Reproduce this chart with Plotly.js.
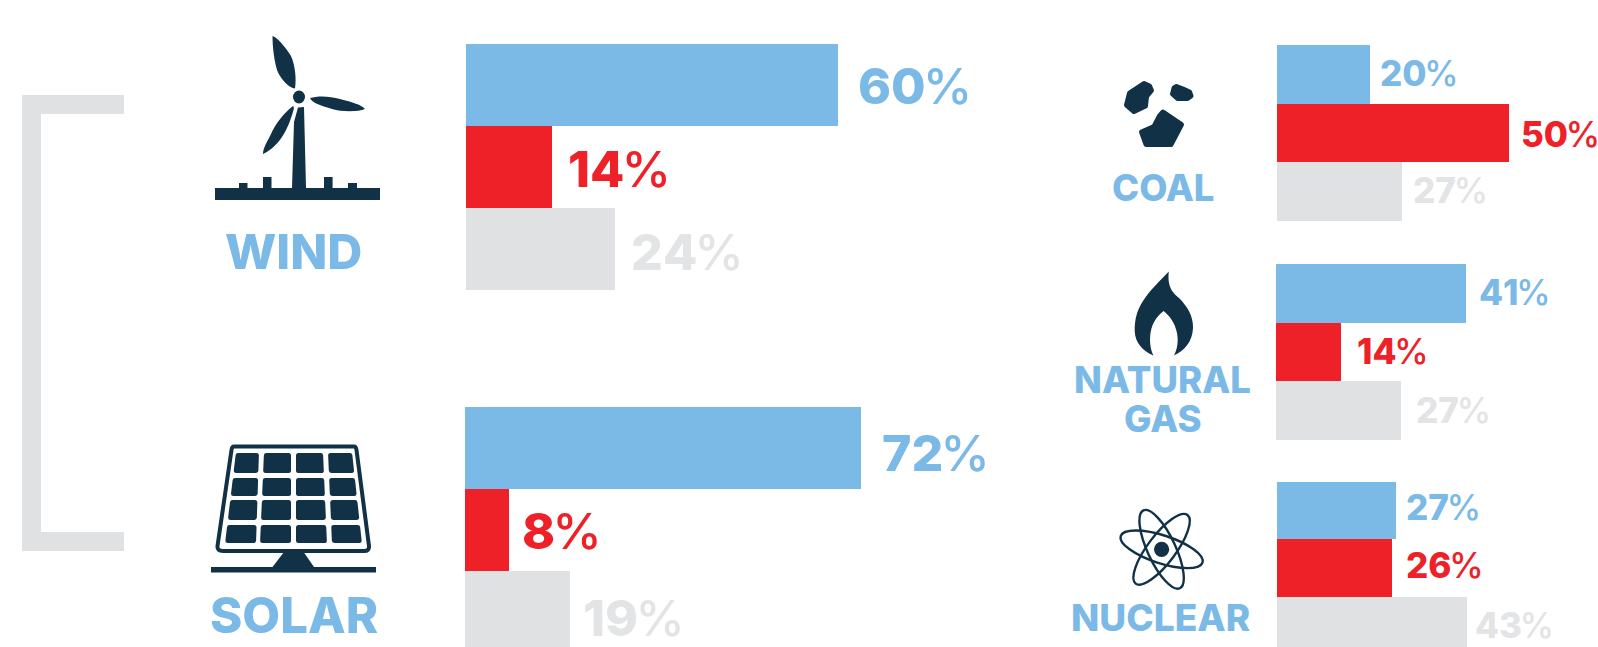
<!DOCTYPE html>
<html><head><meta charset="utf-8">
<script src="https://cdn.plot.ly/plotly-3.0.1.min.js"></script>
<style>html,body{margin:0;padding:0;background:#fff;overflow:hidden}#c{width:1598px;height:647px}</style>
</head><body><div id="c"></div>
<script>
// ---- data ----
const panels = ['Wind','Solar','Coal','Natural Gas','Nuclear'];
const wind    = [60,14,24];
const solar   = [72,8,19];
const coal    = [20,50,27];
const gas     = [41,14,27];
const nuclear = [27,26,43];
const barColors = ['#7bb9e6','#ee2128','#e0e1e3'];
const textColors = ['#7bb9e6','#ee2128','#e3e4e5'];

const W=1598,H=647, NAVY='#113147';
const fx=x=>x/W, fy=y=>1-y/H;
const cfg=[
 {v:wind,   l:465.5,t:44, b:290,s:6.21, yMax:2.5, gx:[19,15,15]},
 {v:solar,  l:465,t:407,b:647,s:5.5, yMax:2.43,gx:[20,12,12]},
 {v:coal,   l:1277,t:45,b:221,s:4.64,yMax:2.5, gx:[9,10.5,10]},
 {v:gas,    l:1276,t:264,b:440,s:4.63,yMax:2.5,gx:[12,15,14]},
 {v:nuclear,l:1277,t:482,b:647,s:4.42,yMax:2.37,gx:[9,13,7]},
];
const labelY=[[86,168.5,251.5],[452.5,531,618],[73,134,190],[292,351,410],[507,565,625]];
const FONT='Inter';
const traces=[],annotations=[],layout={};
const pct=(val,fs)=>{
  const s=String(val), tight=fs>40?-3:-2.5;
  return `${s.slice(0,-1)}<span style="letter-spacing:${tight}px">${s.slice(-1)}</span><span style="font-weight:500">%</span>`;
};
cfg.forEach((c,i)=>{
  const k=i?String(i+1):'';
  const right=i<2?1000:W;
  layout['xaxis'+k]={domain:[fx(c.l),fx(right)],range:[0,(right-c.l)/c.s],visible:false,fixedrange:true,anchor:'y'+k};
  layout['yaxis'+k]={domain:[fy(c.b),fy(c.t)],range:[c.yMax,-0.5],visible:false,fixedrange:true,anchor:'x'+k};
  traces.push({type:'bar',orientation:'h',name:panels[i],x:c.v,y:[0,1,2],width:1,xaxis:'x'+k,yaxis:'y'+k,
    marker:{color:barColors,line:{width:0}},hoverinfo:'skip',showlegend:false});
  const fs=i<2?50:35;
  c.v.forEach((val,j)=>{
    const band=(c.b-c.t)/(c.yMax+0.5);
    const centre=c.t+band*(j+0.5);
    annotations.push({xref:'x'+k,yref:'y'+k,x:val,y:j,xanchor:'left',yanchor:'middle',showarrow:false,
      xshift:c.gx[j],yshift:-(labelY[i][j]-centre),text:pct(val,fs),
      font:{family:FONT,size:fs,color:textColors[j],weight:800},borderpad:0});
  });
});
const names=[['WIND',293.4,252,48.5],['SOLAR',294,615.5,49],['COAL',1163,187.5,36.5],['NATURAL',1162.6,380,36.5],['GAS',1162.6,418.5,36.5],['NUCLEAR',1160.7,617,37]];
names.forEach(n=>annotations.push({xref:'paper',yref:'paper',x:fx(n[1]),y:fy(n[2]),xanchor:'center',yanchor:'middle',
  showarrow:false,text:n[0],font:{family:FONT,size:n[3],color:'#7bb9e6',weight:800}}));

// ---- decorative icons ----
function icon(x,y,w,h,inner){
  const svg=`<svg xmlns="http://www.w3.org/2000/svg" width="${w}" height="${h}" viewBox="${x} ${y} ${w} ${h}">${inner}</svg>`;
  return {source:'data:image/svg+xml;charset=utf-8,'+encodeURIComponent(svg),xref:'paper',yref:'paper',
    x:fx(x),y:fy(y),sizex:w/W,sizey:h/H,xanchor:'left',yanchor:'top',sizing:'stretch',layer:'above'};
}
const poly=(p,sw=1)=>`<polygon points="${p}" fill="${NAVY}" stroke="${NAVY}" stroke-width="${sw}" stroke-linejoin="round"/>`;
const windIcon=
 `<path fill="${NAVY}" d="M215 188H239V183H247.5V188H263V177H271.5V188H292L294 122L298 107.500L304 107L306 188H324V177H332.600V188H348V183H357V188H380V200H215Z"/>`+
 `<ellipse cx="299" cy="97" rx="6" ry="6.500" fill="${NAVY}"/>`+
 `<path fill="${NAVY}" d="M272.500 36C272.500 46 274 60 277 70C281 80 289 88 295 88.500C296.500 78 295 65 291 56C286 48 278 38 272.500 36Z"/>`+
 `<path fill="${NAVY}" d="M310 98C318 95.500 330 96 340 99C352 102 362 105 365 109C358 112 342 112 332 109C322 106 312 103 310 98Z"/>`+
 `<path fill="${NAVY}" d="M293 106C285 112 275 124 271 134C267 142 263 148 263 154C268 152 276 146 282 137C288 128 292 116 294 108Z"/>`;
const xT=[236,259,264,291,296,323,328,352], xB=[225,256,260,291,296,327,332,362];
const rows=[[453,473],[478,496],[500,520],[525,543]];
const xAt=(k,y)=>xT[k]+(xB[k]-xT[k])*(y-452)/92;
let cells='';
rows.forEach(r=>{for(let k=0;k<4;k++){
  const a=r[0]+2.5,b=r[1]-2.5;
  cells+=poly(`${xAt(2*k,a)+2.5},${a} ${xAt(2*k+1,a)-2.5},${a} ${xAt(2*k+1,b)-2.5},${b} ${xAt(2*k,b)+2.5},${b}`,5);
}});
const solarIcon=
 `<path fill="none" stroke="${NAVY}" stroke-width="4" stroke-linejoin="round" d="M234 446.500H354Q356 446.500 356.500 450L369 546Q369.500 551 364 551H223Q217 551 217.500 546L231.500 450Q232 446.500 234 446.500Z"/>`+cells+
 `<path fill="${NAVY}" d="M284 552H303.600L314 567H376V572.500H211V567H272.500Z"/>`;
const coalIcon=
 poly('1144,83.500 1149.500,86 1151.500,90.500 1146.500,96.500 1145.500,106 1134,111.500 1126.500,105 1129.500,93',5)+
 poly('1176.500,86.500 1183,89 1189.500,92 1191,96 1187.500,98.500 1177.500,98.500 1172.500,94 1174,88',5)+
 poly('1163,112 1181.500,124.500 1171,144.500 1146,144.500 1141.500,132 1154,126.500 1159.500,116',5);
const flameIcon=
 `<path fill="${NAVY}" d="M1168.800 271.500C1160 281 1150 290 1143 301C1137 310 1134.500 320 1134.700 331C1135 343 1143 351 1153.500 355.500C1150 349 1149.500 340 1150.500 333C1152 323 1157 316 1163.600 311C1170 316 1175 323 1177 333C1178.500 341 1177.500 349 1174 355.500C1184 351 1192.500 342 1193 328C1193.500 316 1187 306 1179 298C1173 293 1167 287 1168.800 271.500Z"/>`;
const cx=1161.6, cy=549.3;
const orbit=a=>`<ellipse cx="${cx}" cy="${cy}" rx="43" ry="14" fill="none" stroke="${NAVY}" stroke-width="2.400" transform="rotate(${a} ${cx} ${cy})"/>`;
const nuclearIcon=orbit(18)+orbit(65)+orbit(-53)+`<circle cx="${cx}" cy="${cy}" r="7.600" fill="${NAVY}"/>`;
layout.images=[
 icon(205,30,185,175,windIcon),
 icon(205,438,180,140,solarIcon),
 icon(1115,75,90,78,coalIcon),
 icon(1128,266,72,95,flameIcon),
 icon(1115,503,95,93,nuclearIcon)
];
layout.shapes=[{type:'path',xref:'paper',yref:'paper',line:{width:0},fillcolor:'#e0e1e3',layer:'below',
  path:'M'+[[124,95],[22,95],[22,551],[124,551],[124,532],[41,532],[41,114],[124,114]].map(p=>fx(p[0])+' '+fy(p[1])).join('L')+'Z'}];
Object.assign(layout,{width:W,height:H,margin:{l:0,r:0,t:0,b:0},paper_bgcolor:'#fff',plot_bgcolor:'rgba(0,0,0,0)',
  bargap:0,showlegend:false,annotations});
Plotly.newPlot('c',traces,layout,{displayModeBar:false,staticPlot:true});
</script></body></html>
